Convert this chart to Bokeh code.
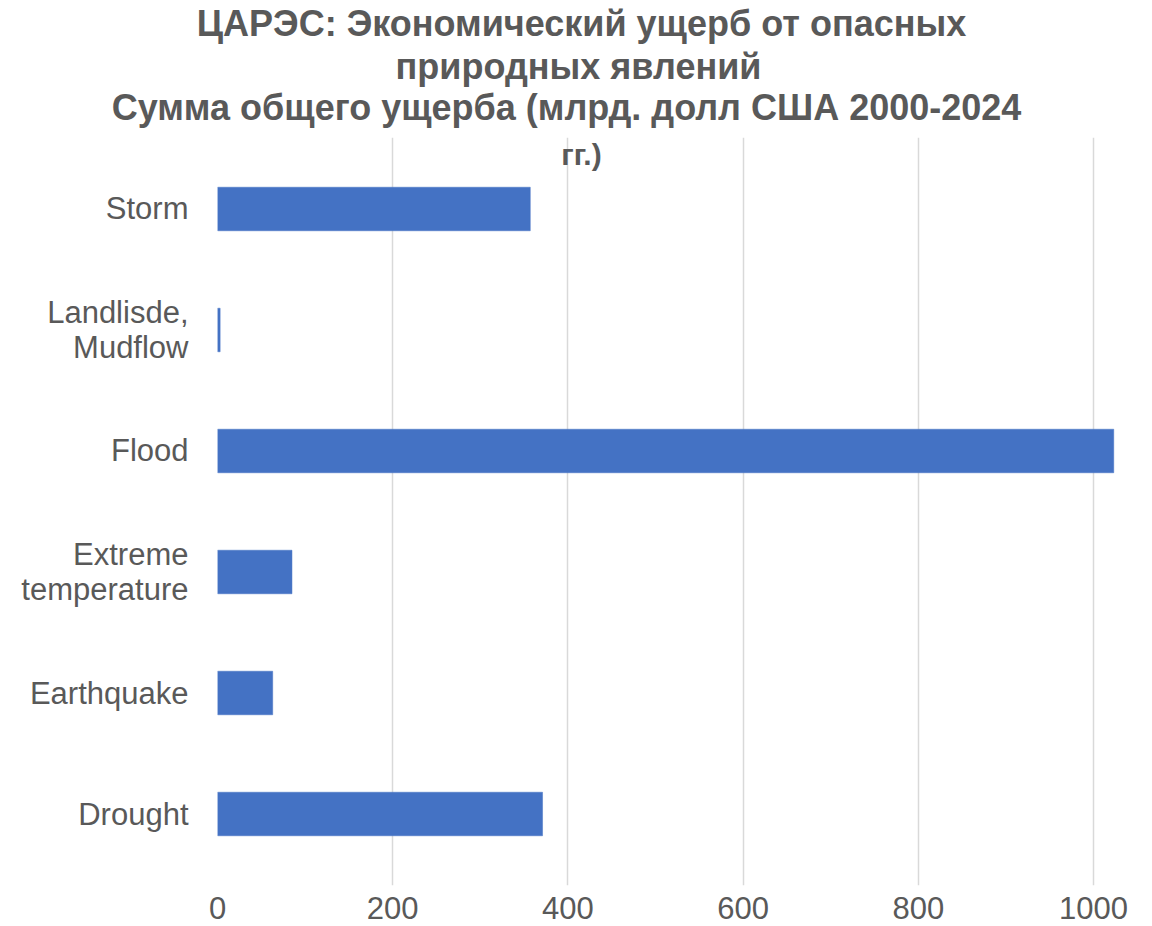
from bokeh.plotting import figure
from bokeh.models import FactorRange, Range1d, FixedTicker, Label
from bokeh.layouts import column
from bokeh.embed import file_html
from bokeh.resources import INLINE

# ---- data ----
categories = ["Storm", "Landlisde,\nMudflow", "Flood", "Extreme\ntemperature", "Earthquake", "Drought"]
values = [357, 3, 1023, 85, 63, 371]
x_ticks = [0, 200, 400, 600, 800, 1000]
title_lines = [
    "ЦАРЭС: Экономический ущерб от опасных",
    "природных явлений",
    "Сумма общего ущерба (млрд. долл США 2000-2024",
    "гг.)",
]

TEXT = "#595959"
FONT = "Liberation Sans"
TITLE_PX = 36
LAST_PX = 30
W = 1136
TOP_H = 137


def base_fix(px):
    # renderer places the alphabetic baseline this much lower than asked
    return 12 * px / 34


# ---- title strip (first three lines) ----
top = figure(width=W, height=TOP_H, x_axis_type=None, y_axis_type=None,
             x_range=Range1d(0, 1), y_range=Range1d(0, 1),
             output_backend="svg", toolbar_location=None, min_border=0)
top.frame_align = False
top.outline_line_color = None
top.grid.grid_line_color = None
top_baselines = [36, 79, 120]
top_centers = [581, 578, 566]
for line, b, cx in zip(title_lines[:3], top_baselines, top_centers):
    top.add_layout(Label(
        x=cx, y=TOP_H - (b - base_fix(TITLE_PX)), x_units="screen", y_units="screen",
        text=line, text_align="center", text_baseline="alphabetic",
        text_font=FONT, text_font_style="bold", text_font_size=f"{TITLE_PX}px",
        text_color=TEXT,
    ))

# ---- main chart ----
MAIN_H = 789
BOTTOM = 41
LEFT = 217
factors = categories[::-1]
p = figure(
    width=W, height=MAIN_H,
    y_range=FactorRange(factors=factors, range_padding=0.0303),
    x_range=Range1d(0, 1025),
    output_backend="svg", toolbar_location=None,
    min_border_left=LEFT, min_border_right=21,
    min_border_top=0, min_border_bottom=BOTTOM,
)
p.frame_align = False
p.hbar(y=categories, right=values, height=0.36, fill_color="#4472C4",
       line_color="#4472C4", line_width=0.5)

p.outline_line_color = None
p.ygrid.grid_line_color = None
p.xgrid.grid_line_color = "#d9d9d9"
p.xgrid.grid_line_width = 1.5

p.xaxis.ticker = FixedTicker(ticks=x_ticks)
for ax in (p.xaxis[0], p.yaxis[0]):
    ax.axis_line_color = None
    ax.major_tick_line_color = None
    ax.minor_tick_line_color = None
    ax.major_label_text_font = FONT
    ax.major_label_text_font_size = "31px"
    ax.major_label_text_color = TEXT
p.xaxis.major_label_standoff = 5
p.yaxis.major_label_standoff = 23
p.yaxis.major_label_text_line_height = 1.0

frame_h = MAIN_H - BOTTOM
p.add_layout(Label(
    x=581 - LEFT, y=frame_h - (165 - base_fix(LAST_PX) - TOP_H),
    x_units="screen", y_units="screen",
    text=title_lines[3], text_align="center", text_baseline="alphabetic",
    text_font=FONT, text_font_style="bold", text_font_size=f"{LAST_PX}px",
    text_color=TEXT,
))

layout = column(top, p)
open("out.html", "w").write(file_html(layout, INLINE))
